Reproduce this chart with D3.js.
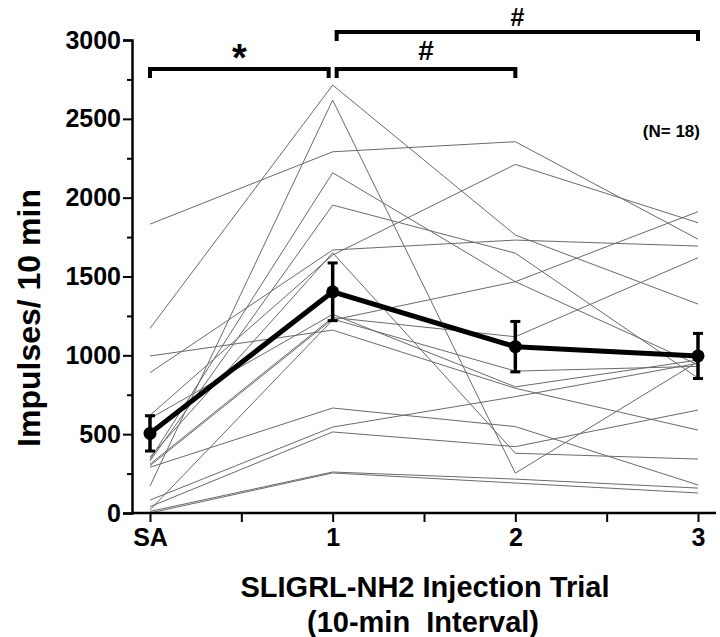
<!DOCTYPE html>
<html>
<head>
<meta charset="utf-8">
<script src="https://cdn.jsdelivr.net/npm/d3@7/dist/d3.min.js"></script>
<style>
body { margin: 0; background: #fff; }
text { font-family: "Liberation Sans", Arial, sans-serif; font-weight: bold; }
</style>
</head>
<body>
<script>
// categories on the x axis
var trials = ["SA", "1", "2", "3"];
var yTicks = [0, 500, 1000, 1500, 2000, 2500, 3000];

// one row per animal: SA, trial 1, trial 2, trial 3 (impulses / 10 min)
var animals = [
	[1832, 2291, 2355, 1737],
	[1171, 2714, 1763, 1325],
	[171, 2619, 253, 960],
	[340, 2158, 1467, 940],
	[330, 1953, 1648, 856],
	[890, 1668, 1731, 1693],
	[620, 1636, 2211, 1841],
	[355, 1650, 379, 342],
	[600, 1260, 800, 970],
	[310, 1240, 1118, 1619],
	[300, 1230, 900, 930],
	[20, 1224, 1467, 1911],
	[996, 1160, 791, 526],
	[290, 666, 548, 178],
	[82, 545, 738, 950],
	[40, 514, 421, 653],
	[10, 260, 215, 158],
	[0, 254, 190, 127]
];

// group mean and s.e.m.
var meanVals = [505, 1403, 1055, 996];
var semVals = [112, 183, 160, 143];

// significance brackets: from index, to index, label
var brackets = [
	[0, 1, "*"],
	[1, 2, "#"],
	[1, 3, "#"]
];

var svg = d3.select("body").append("svg")
	.attr("width", 720)
	.attr("height", 637);

var x = d3.scaleLinear().domain([0, 3]).range([150, 698]);
var y = d3.scaleLinear().domain([0, 3000]).range([513, 40]);

// individual animals
var line = d3.line()
	.x(function (d, i) { return x(i); })
	.y(function (d) { return y(d); });

svg.append("g").selectAll("path")
	.data(animals)
	.enter()
	.append("path")
	.attr("d", line)
	.attr("fill", "none")
	.attr("stroke", "#6a6a6a")
	.attr("stroke-width", 1);

// y axis
var yAxis = svg.append("g")
	.attr("transform", "translate(132,0)")
	.call(d3.axisLeft(y).tickValues(yTicks).tickSize(9).tickPadding(2).tickFormat(d3.format("d")));
svg.append("g")
	.attr("transform", "translate(132,0)")
	.call(d3.axisLeft(y).tickValues([250, 750, 1250, 1750, 2250, 2750]).tickSize(5).tickFormat(""))
	.select(".domain").remove();

// x axis
var xAxis = svg.append("g")
	.attr("transform", "translate(0,513)")
	.call(d3.axisBottom(x).tickValues([0, 1, 2, 3]).tickSize(9).tickPadding(6)
		.tickFormat(function (i) { return trials[i]; }));
xAxis.select(".domain").remove();
svg.append("g")
	.attr("transform", "translate(0,513)")
	.call(d3.axisBottom(x).tickValues([0.5, 1.5, 2.5]).tickSize(9).tickFormat(""))
	.select(".domain").remove();
svg.append("line")
	.attr("x1", 131).attr("x2", 716)
	.attr("y1", 513).attr("y2", 513)
	.attr("stroke", "#000").attr("stroke-width", 2.5);

svg.selectAll(".tick line").attr("stroke", "#000").attr("stroke-width", 2);
yAxis.select(".domain").attr("stroke-width", 2.5);
svg.selectAll(".tick text")
	.attr("fill", "#000")
	.style("font-size", "25px");

// mean +/- sem
var means = svg.append("g");
means.append("path")
	.datum(meanVals)
	.attr("d", line)
	.attr("fill", "none")
	.attr("stroke", "#000")
	.attr("stroke-width", 5);

var err = means.selectAll("g.err")
	.data(meanVals)
	.enter()
	.append("g");
err.append("line")
	.attr("x1", function (d, i) { return x(i); })
	.attr("x2", function (d, i) { return x(i); })
	.attr("y1", function (d, i) { return y(d + semVals[i]); })
	.attr("y2", function (d, i) { return y(d - semVals[i]); })
	.attr("stroke", "#000").attr("stroke-width", 3.5);
[1, -1].forEach(function (s) {
	err.append("line")
		.attr("x1", function (d, i) { return x(i) - 5; })
		.attr("x2", function (d, i) { return x(i) + 5; })
		.attr("y1", function (d, i) { return y(d + s * semVals[i]); })
		.attr("y2", function (d, i) { return y(d + s * semVals[i]); })
		.attr("stroke", "#000").attr("stroke-width", 3);
});
err.append("circle")
	.attr("cx", function (d, i) { return x(i); })
	.attr("cy", function (d) { return y(d); })
	.attr("r", 6.5)
	.attr("fill", "#000");

// brackets
var bracketY = [69, 69, 32];
brackets.forEach(function (b, k) {
	var x1 = x(b[0]) + (b[0] > 0 ? 4 : 0);
	var x2 = x(b[1]) - (k == 0 ? 4 : 0);
	var by = bracketY[k];
	svg.append("path")
		.attr("d", "M" + x1 + "," + (by + 9) + "V" + by + "H" + x2 + "V" + (by + 9))
		.attr("fill", "none")
		.attr("stroke", "#000")
		.attr("stroke-width", 4);
	svg.append("text")
		.attr("x", (x1 + x2) / 2)
		.attr("y", by - (b[2] == "*" ? -2 : (k == 2 ? 6 : 9)))
		.attr("text-anchor", "middle")
		.style("font-size", b[2] == "*" ? "38px" : (k == 2 ? "25px" : "28px"))
		.text(b[2]);
});

svg.append("text")
	.attr("x", 700).attr("y", 137)
	.attr("text-anchor", "end")
	.style("font-size", "17px")
	.text("(N= 18)");

// axis titles
svg.append("text")
	.attr("transform", "translate(40,318) rotate(-90)")
	.attr("text-anchor", "middle")
	.style("font-size", "32px")
	.text("Impulses/ 10 min");

svg.append("text")
	.attr("x", 425).attr("y", 597)
	.attr("text-anchor", "middle")
	.style("font-size", "29px")
	.text("SLIGRL-NH2 Injection Trial");
svg.append("text")
	.attr("x", 423).attr("y", 632)
	.attr("text-anchor", "middle")
	.style("font-size", "29px")
	.style("white-space", "pre")
	.text("(10-min  Interval)");
</script>
</body>
</html>
